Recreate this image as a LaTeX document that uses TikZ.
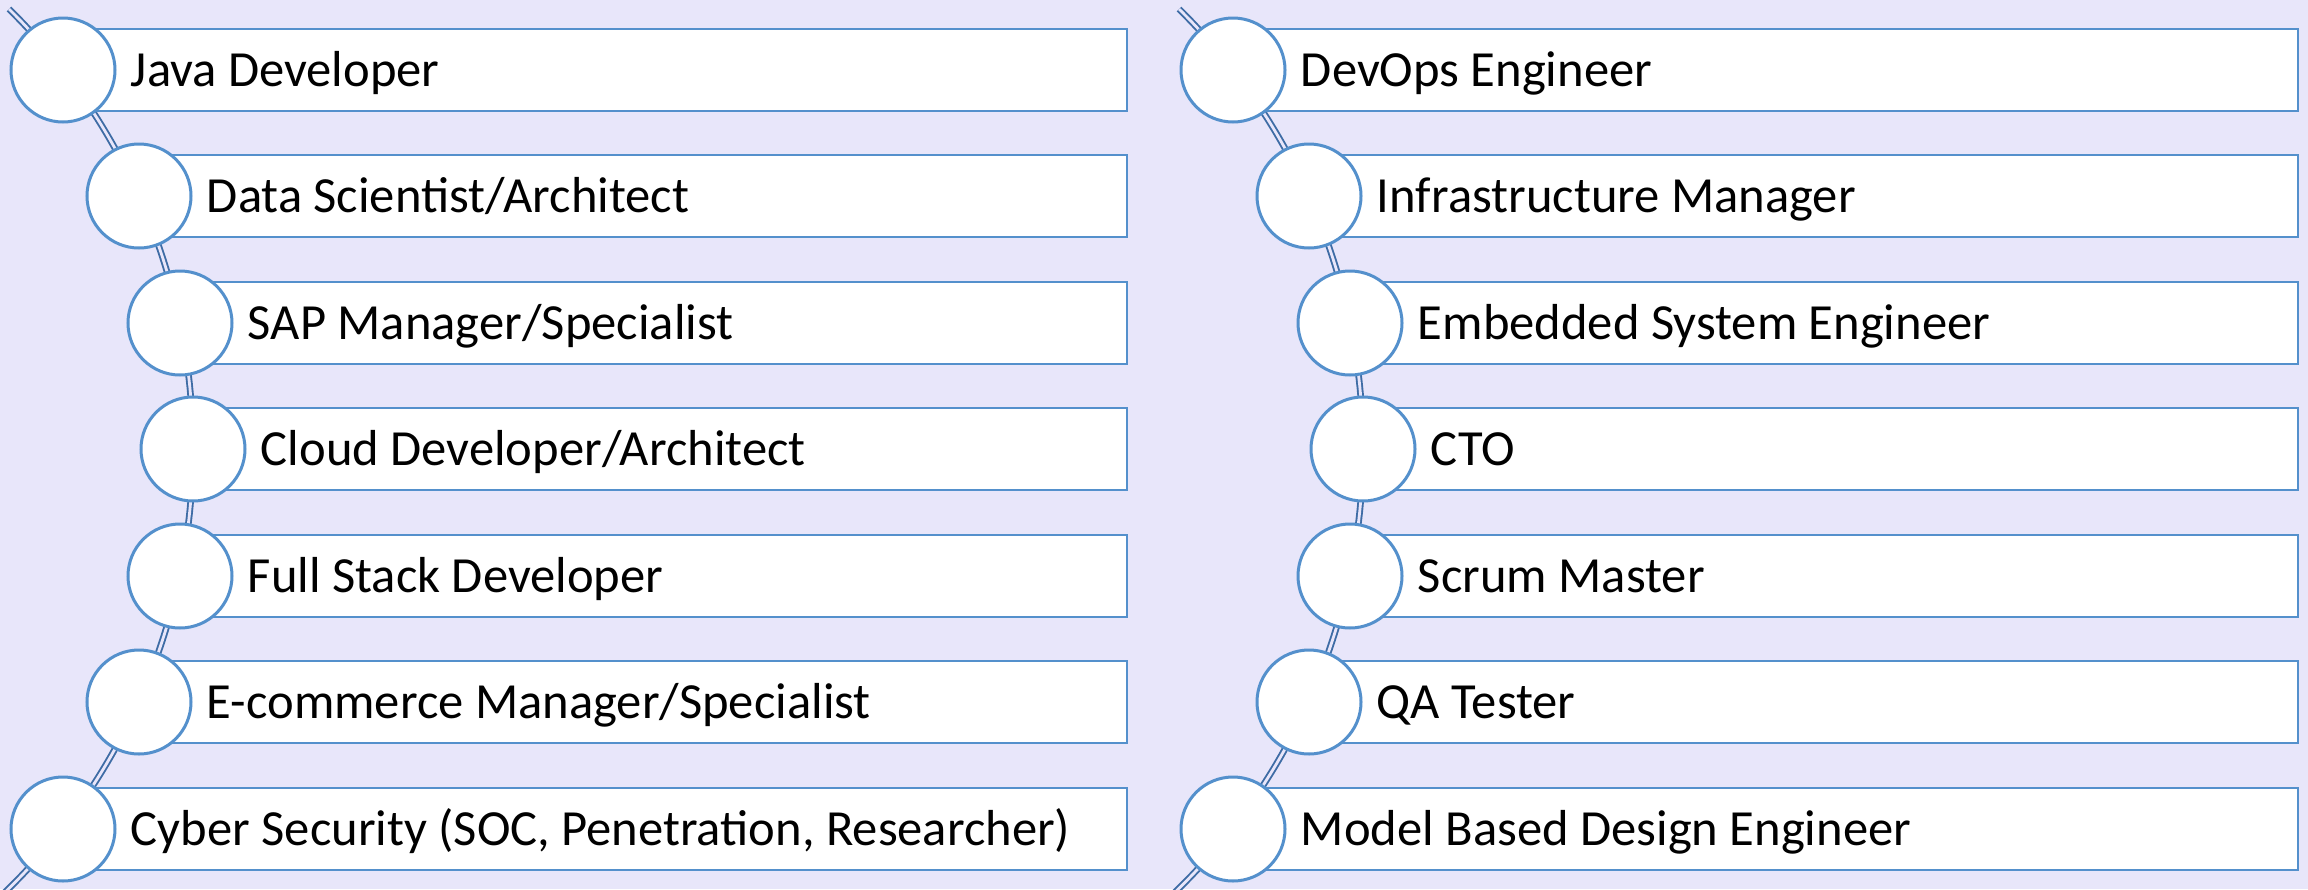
\documentclass[tikz,border=0pt]{standalone}
\usepackage{fontspec}
\setmainfont{Carlito}
\usetikzlibrary{positioning}
\definecolor{lavbg}{RGB}{232,230,250}
\definecolor{itemblue}{RGB}{84,144,204}
\definecolor{spineblue}{RGB}{62,108,165}
\tikzset{/career/bar/.style={rectangle, draw=itemblue, line width=1.2pt, fill=white, inner sep=0pt, minimum height=41pt, anchor=west
}}
\tikzset{/career/dot/.style={circle, draw=itemblue, line width=1.5pt, fill=white, inner sep=0pt, minimum size=52pt
}}
\tikzset{/career/label/.style={inner sep=0pt, anchor=west, text height=16pt, text depth=0pt, font=\fontsize{25.3}{30}\selectfont
}}
\tikzset{/career/spine/.style={draw=spineblue, double=lavbg, line width=0.95pt, double distance=1.4pt
}}
\begin{document}
\begin{tikzpicture}[x=0.5pt, y=-0.5pt]
	\useasboundingbox (0,0) rectangle (2308,889);
	\fill[lavbg] (0,0) rectangle (2308,889);
	\coordinate (ltop) at (9,9);
	\coordinate (rtop) at (1179,9);
	\path[/career/spine] (ltop) arc[start angle=-45.4, end angle=47, radius=617.5];
	\path[/career/spine] (rtop) arc[start angle=-45.4, end angle=47, radius=617.5];
	\foreach \i/\y/\x/\t in {1/70/63/{Java Developer}, 2/196/139/{Data Scientist/Architect}, 3/323/180/{SAP Manager/Specialist}, 4/449/193/{Cloud Developer/Architect}, 5/576/180/{Full Stack Developer}, 6/702/139/{E-commerce Manager/Specialist}, 7/829/63/{Cyber Security (SOC, Penetration, Researcher)}}
	{
		\node[/career/bar, minimum width={(1126-\x)*0.5pt}] (lb\i) at (\x,\y) {};
		\node[/career/dot] (lc\i) at (lb\i.west) {};
		\node[/career/label, right=7pt of lc\i] (lt\i) {\t};
	}
	\foreach \i/\y/\x/\t in {1/70/1233/{DevOps Engineer}, 2/196/1309/{Infrastructure Manager}, 3/323/1350/{Embedded System Engineer}, 4/449/1363/{CTO}, 5/576/1350/{Scrum Master}, 6/702/1309/{QA Tester}, 7/829/1233/{Model Based Design Engineer}}
	{
		\node[/career/bar, minimum width={(2297-\x)*0.5pt}] (rb\i) at (\x,\y) {};
		\node[/career/dot] (rc\i) at (rb\i.west) {};
		\node[/career/label, right=7pt of rc\i] (rt\i) {\t};
	}
\end{tikzpicture}
\end{document}
